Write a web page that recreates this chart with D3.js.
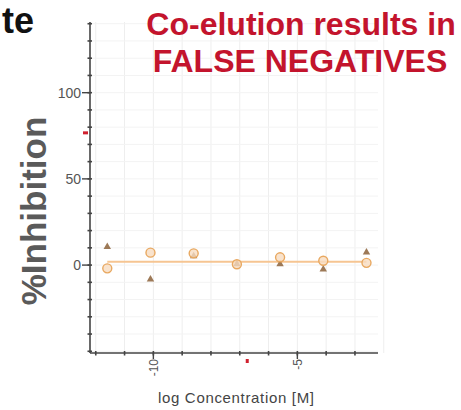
<!DOCTYPE html>
<html lang="en">
<head>
<meta charset="utf-8">
<script src="https://d3js.org/d3.v7.min.js"></script>
<style>
  body { margin: 0; background: #fff; }
  svg { display: block; }
</style>
</head>
<body>
<script>
// log concentration of each dose
var logConc = [-11.6, -10.1, -8.6, -7.1, -5.6, -4.1, -2.6];
// replicate 1 (pale circles) and replicate 2 (dark markers), % inhibition
var repA = [-1.9, 7.2, 6.8, 0.5, 4.5, 2.5, 1.3];
var repB = [10.6, -8.3, 5.2, 0.6, 0.6, -2.5, 7.4];
// flat fit line
var fitLevel = 1.9;
// red markers (top on the y axis, IC50 on the x axis)
var topMark = 76.7;
var ic50Mark = -6.74;

var yTickLabels = [0, 50, 100];
var xTickLabels = [-10, -5];

var width = 461, height = 410;

var svg = d3.select("body").append("svg")
    .attr("width", width)
    .attr("height", height);

var x = d3.scaleLinear().domain([-12.2, -2.2]).range([90, 378]);
var y = d3.scaleLinear().domain([-51, 141]).range([353, 22]);

// faint grid
svg.append("g")
  .selectAll("line")
  .data(d3.range(-12, -2 + 0.1, 1))
  .enter().append("line")
    .attr("x1", function(d) { return x(d); })
    .attr("x2", function(d) { return x(d); })
    .attr("y1", y(141)).attr("y2", y(-51))
    .attr("stroke", "#eeeeee").attr("stroke-width", 1);

svg.append("g")
  .selectAll("line")
  .data(d3.range(-50, 141, 10))
  .enter().append("line")
    .attr("x1", x(-12.2)).attr("x2", x(-2.2))
    .attr("y1", function(d) { return y(d); })
    .attr("y2", function(d) { return y(d); })
    .attr("stroke", "#f3f3f3").attr("stroke-width", 1);

// y axis: minor ticks every 10, labelled major ticks
var yAxis = svg.append("g").attr("transform", "translate(" + x(-12.2) + ",0)");
yAxis.append("line")
    .attr("y1", y(141)).attr("y2", y(-51))
    .attr("stroke", "#444").attr("stroke-width", 1.6);
yAxis.selectAll(".minor")
  .data(d3.range(-50, 141, 10))
  .enter().append("line")
    .attr("x1", -2.5).attr("x2", 2)
    .attr("y1", function(d) { return y(d); })
    .attr("y2", function(d) { return y(d); })
    .attr("stroke", "#444").attr("stroke-width", 1.6);
yAxis.selectAll(".major")
  .data(yTickLabels)
  .enter().append("line")
    .attr("x1", -8).attr("x2", 0)
    .attr("y1", function(d) { return y(d); })
    .attr("y2", function(d) { return y(d); })
    .attr("stroke", "#444").attr("stroke-width", 1.4);
yAxis.selectAll("text")
  .data(yTickLabels)
  .enter().append("text")
    .attr("x", -9)
    .attr("y", function(d) { return y(d); })
    .attr("dy", "0.35em")
    .attr("text-anchor", "end")
    .attr("font-family", "Liberation Sans, Arial, sans-serif")
    .attr("font-size", 14)
    .attr("fill", "#555")
    .text(function(d) { return d; });

// x axis
var xAxis = svg.append("g").attr("transform", "translate(0," + y(-51) + ")");
xAxis.append("line")
    .attr("x1", x(-12.2)).attr("x2", x(-2.2))
    .attr("stroke", "#444").attr("stroke-width", 1.6);
xAxis.selectAll(".minor")
  .data(d3.range(-12, -2.5, 1))
  .enter().append("line")
    .attr("x1", function(d) { return x(d); })
    .attr("x2", function(d) { return x(d); })
    .attr("y1", -2).attr("y2", 2.5)
    .attr("stroke", "#444").attr("stroke-width", 1.6);
xAxis.selectAll(".major")
  .data(xTickLabels)
  .enter().append("line")
    .attr("x1", function(d) { return x(d); })
    .attr("x2", function(d) { return x(d); })
    .attr("y1", 0).attr("y2", 6)
    .attr("stroke", "#444").attr("stroke-width", 1.4);
xAxis.selectAll("text")
  .data(xTickLabels)
  .enter().append("text")
    .attr("transform", function(d) { return "translate(" + x(d) + ",6) rotate(-90)"; })
    .attr("dy", "0.35em")
    .attr("text-anchor", "end")
    .attr("font-family", "Liberation Sans, Arial, sans-serif")
    .attr("font-size", 12)
    .attr("fill", "#555")
    .text(function(d) { return d; });

// red markers
svg.append("rect")
    .attr("x", x(-12.2) - 7).attr("y", y(topMark) - 1.5)
    .attr("width", 5).attr("height", 3)
    .attr("fill", "#d0202e");
svg.append("rect")
    .attr("x", x(ic50Mark) - 1.5).attr("y", y(-51) + 6)
    .attr("width", 3).attr("height", 4)
    .attr("fill", "#d0202e");

// fit line
svg.append("line")
    .attr("x1", x(logConc[0])).attr("x2", x(logConc[logConc.length - 1]))
    .attr("y1", y(fitLevel)).attr("y2", y(fitLevel))
    .attr("stroke", "#f6c592").attr("stroke-width", 2);

// replicate B: dark markers
svg.append("g")
  .selectAll("path")
  .data(logConc)
  .enter().append("path")
    .attr("transform", function(d, i) { return "translate(" + x(d) + "," + y(repB[i]) + ")"; })
    .attr("d", d3.symbol().type(d3.symbolTriangle).size(24))
    .attr("fill", "#8c6239")
    .attr("opacity", 0.85);

// replicate A: pale circles
svg.append("g")
  .selectAll("circle")
  .data(logConc)
  .enter().append("circle")
    .attr("cx", function(d) { return x(d); })
    .attr("cy", function(d, i) { return y(repA[i]); })
    .attr("r", 4.5)
    .attr("fill", "#f7dcc0")
    .attr("fill-opacity", 0.8)
    .attr("stroke", "#e8a860")
    .attr("stroke-width", 1.4);

// axis titles
svg.append("text")
    .attr("transform", "translate(46," + 211 + ") rotate(-90)")
    .attr("text-anchor", "middle")
    .attr("font-family", "Liberation Sans, Arial, sans-serif")
    .attr("font-weight", "bold")
    .attr("font-size", 35)
    .attr("fill", "#5a5a5a")
    .text("%Inhibition");

svg.append("text")
    .attr("x", 236).attr("y", 403)
    .attr("text-anchor", "middle")
    .attr("font-family", "Liberation Sans, Arial, sans-serif")
    .attr("font-size", 15)
    .attr("textLength", 156)
    .attr("fill", "#444")
    .text("log Concentration [M]");

// red callout
var callout = svg.append("text")
    .attr("text-anchor", "middle")
    .attr("font-family", "Liberation Sans, Arial, sans-serif")
    .attr("font-weight", "bold")
    .attr("font-size", 32)
    .attr("fill", "#c3142d");
callout.append("tspan").attr("x", 301).attr("y", 35).text("Co-elution results in");
callout.append("tspan").attr("x", 300).attr("y", 72).text("FALSE NEGATIVES");

// panel heading fragment at the top left
svg.append("text")
    .attr("x", 2).attr("y", 33)
    .attr("font-family", "Liberation Sans, Arial, sans-serif")
    .attr("font-weight", "bold")
    .attr("font-size", 36)
    .attr("fill", "#111")
    .text("te");
</script>
</body>
</html>
